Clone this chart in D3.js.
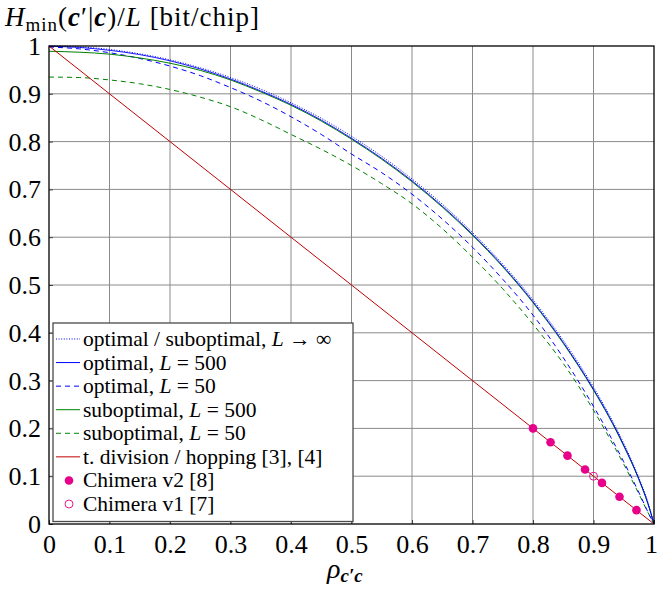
<!DOCTYPE html>
<html>
<head>
<meta charset="utf-8">
<script src="https://cdn.jsdelivr.net/npm/d3@7"></script>
<style>
  body { margin: 0; background: #fff; }
  text { font-family: "Liberation Serif", "DejaVu Serif", serif; fill: #000; }
</style>
</head>
<body>
<div id="chart"></div>
<script>
// Min-entropy vs correlation chart

// Data
// ==========================
var rho = [0, 0.05, 0.1, 0.15, 0.2, 0.25, 0.3, 0.35, 0.4, 0.45, 0.5, 0.55, 0.6, 0.65, 0.7, 0.75, 0.8, 0.85, 0.9, 0.925, 0.95, 0.975, 0.99, 1];

var limitInf = [1, 0.9982, 0.9928, 0.9837, 0.9710, 0.9544, 0.9341, 0.9097, 0.8813, 0.8488, 0.8113, 0.7692, 0.7219, 0.6691, 0.6098, 0.5436, 0.4690, 0.3843, 0.2864, 0.2307, 0.1687, 0.0969, 0.0454, 0];
var opt500 = [0.9995, 0.997, 0.991, 0.982, 0.969, 0.952, 0.931, 0.906, 0.878, 0.845, 0.807, 0.765, 0.718, 0.665, 0.606, 0.540, 0.465, 0.380, 0.282, 0.227, 0.165, 0.094, 0.043, 0];
var opt50 = [0.998, 0.994, 0.986, 0.974, 0.958, 0.938, 0.913, 0.885, 0.852, 0.815, 0.774, 0.735, 0.690, 0.638, 0.579, 0.512, 0.437, 0.348, 0.246, 0.190, 0.130, 0.066, 0.025, 0];
var sub500 = [0.989, 0.987, 0.983, 0.975, 0.964, 0.949, 0.929, 0.904, 0.876, 0.843, 0.805, 0.763, 0.716, 0.663, 0.604, 0.538, 0.463, 0.378, 0.280, 0.225, 0.163, 0.093, 0.042, 0];
var sub50 = [0.935, 0.934, 0.929, 0.921, 0.909, 0.893, 0.873, 0.846, 0.815, 0.784, 0.750, 0.712, 0.670, 0.618, 0.558, 0.492, 0.418, 0.336, 0.238, 0.183, 0.125, 0.063, 0.024, 0];

var tdivRho = [0, 1];
var tdivVal = [1, 0];

var chimera2Rho = [0.8, 0.829, 0.857, 0.886, 0.914, 0.943, 0.971];
var chimera2Val = [0.2, 0.171, 0.143, 0.114, 0.086, 0.057, 0.029];
var chimera1Rho = [0.9];
var chimera1Val = [0.1];

var xTicks = [0, 0.1, 0.2, 0.3, 0.4, 0.5, 0.6, 0.7, 0.8, 0.9, 1];
var yTicks = [0, 0.1, 0.2, 0.3, 0.4, 0.5, 0.6, 0.7, 0.8, 0.9, 1];

// Sizes
var width = 657;
var height = 591;
var mLeft = 49, mRight = 654, mTop = 46, mBottom = 524;
var serif = "'Liberation Serif', 'DejaVu Serif', serif";

var blue = "#0000ff";
var green = "#008000";
var red = "#c00000";
var magenta = "#e6008a";

var svg = d3.select("#chart")
    .append("svg")
    .attr("width", width)
    .attr("height", height);

var xScale = d3.scaleLinear().domain([0, 1]).range([mLeft, mRight]);
var yScale = d3.scaleLinear().domain([0, 1]).range([mBottom, mTop]);

// Grid
svg.append("g")
    .selectAll("line")
    .data(xTicks.slice(1, -1))
    .enter().append("line")
    .attr("x1", function(d) { return xScale(d); })
    .attr("x2", function(d) { return xScale(d); })
    .attr("y1", mTop)
    .attr("y2", mBottom)
    .attr("stroke", "#8a8a8a")
    .attr("stroke-width", 1);

svg.append("g")
    .selectAll("line")
    .data(yTicks.slice(1, -1))
    .enter().append("line")
    .attr("y1", function(d) { return yScale(d); })
    .attr("y2", function(d) { return yScale(d); })
    .attr("x1", mLeft)
    .attr("x2", mRight)
    .attr("stroke", "#8a8a8a")
    .attr("stroke-width", 1);

// Axes (ticks inside, labels outside)
function fmt(d) { return d === 0 || d === 1 ? String(d) : d3.format(".1f")(d); }
var xAxis = d3.axisBottom(xScale).tickValues(xTicks).tickSize(-4).tickFormat(fmt);
var yAxis = d3.axisLeft(yScale).tickValues(yTicks).tickSize(-4).tickFormat(fmt);

var gx = svg.append("g")
    .attr("transform", "translate(0," + mBottom + ")")
    .call(xAxis)
    .attr("font-family", serif);
gx.select(".domain").remove();
gx.selectAll("line").attr("stroke", "#444");
gx.selectAll("text")
    .style("font-family", serif)
    .attr("font-size", 26)
    .attr("y", 8)
    .attr("dy", "0.8em")
    .attr("dx", function(d) { return d === 1 ? -3 : 0; });

var gy = svg.append("g")
    .attr("transform", "translate(" + mLeft + ",0)")
    .call(yAxis)
    .attr("font-family", serif);
gy.select(".domain").remove();
gy.selectAll("line").attr("stroke", "#444");
gy.selectAll("text")
    .style("font-family", serif)
    .attr("font-size", 26)
    .attr("x", -8)
    .attr("dy", "0.33em");

// Curves
function series(xs, ys) {
    return xs.map(function(x, i) { return [x, ys[i]]; });
}

var line = d3.line()
    .x(function(d) { return xScale(d[0]); })
    .y(function(d) { return yScale(d[1]); })
    .curve(d3.curveMonotoneX);

var curves = [
    { data: series(rho, sub50), color: green, dash: "5,4", w: 1 },
    { data: series(rho, opt50), color: blue, dash: "5,4", w: 1 },
    { data: series(rho, sub500), color: green, dash: null, w: 1 },
    { data: series(rho, limitInf), color: blue, dash: "1,1.6", w: 1 },
    { data: series(rho, opt500), color: blue, dash: null, w: 0.9 },
    { data: series(tdivRho, tdivVal), color: red, dash: null, w: 1 }
];

svg.append("g")
    .selectAll("path")
    .data(curves)
    .enter().append("path")
    .attr("d", function(d) { return line(d.data); })
    .attr("fill", "none")
    .attr("stroke", function(d) { return d.color; })
    .attr("stroke-width", function(d) { return d.w; })
    .attr("stroke-dasharray", function(d) { return d.dash; });

// Chimera markers
svg.append("g")
    .selectAll("circle")
    .data(series(chimera2Rho, chimera2Val))
    .enter().append("circle")
    .attr("cx", function(d) { return xScale(d[0]); })
    .attr("cy", function(d) { return yScale(d[1]); })
    .attr("r", 4.3)
    .attr("fill", magenta);

svg.append("g")
    .selectAll("circle")
    .data(series(chimera1Rho, chimera1Val))
    .enter().append("circle")
    .attr("cx", function(d) { return xScale(d[0]); })
    .attr("cy", function(d) { return yScale(d[1]); })
    .attr("r", 4)
    .attr("fill", "none")
    .attr("stroke", magenta)
    .attr("stroke-width", 0.9);

// Axis box
svg.append("rect")
    .attr("x", mLeft)
    .attr("y", mTop)
    .attr("width", mRight - mLeft)
    .attr("height", mBottom - mTop)
    .attr("fill", "none")
    .attr("stroke", "#000")
    .attr("stroke-width", 1.3);

// Legend
// ==========================
var legendItems = [
    { color: blue, dash: "1,1.6", kind: "line" },
    { color: blue, dash: null, kind: "line" },
    { color: blue, dash: "5,4", kind: "line" },
    { color: green, dash: null, kind: "line" },
    { color: green, dash: "5,4", kind: "line" },
    { color: red, dash: null, kind: "line" },
    { color: magenta, kind: "dot" },
    { color: magenta, kind: "ring" }
];

var lg = svg.append("g");
lg.append("rect")
    .attr("x", 53)
    .attr("y", 323)
    .attr("width", 300)
    .attr("height", 198.5)
    .attr("fill", "#fff")
    .attr("stroke", "#4a4a4a")
    .attr("stroke-width", 1.3);

var rowY = d3.scaleLinear().domain([0, 7]).range([339, 504]);

legendItems.forEach(function(item, i) {
    var y = rowY(i);
    if (item.kind === "line") {
        lg.append("line")
            .attr("x1", 56).attr("x2", 80)
            .attr("y1", y).attr("y2", y)
            .attr("stroke", item.color)
            .attr("stroke-width", 1)
            .attr("stroke-dasharray", item.dash);
    } else if (item.kind === "dot") {
        lg.append("circle").attr("cx", 69).attr("cy", y).attr("r", 4.3).attr("fill", item.color);
    } else {
        lg.append("circle").attr("cx", 69).attr("cy", y).attr("r", 4)
            .attr("fill", "none").attr("stroke", item.color).attr("stroke-width", 0.9);
    }
});

function legendText(i) {
    return lg.append("text")
        .attr("x", 83)
        .attr("y", rowY(i) + 7)
        .attr("font-size", 21.5);
}

var t0 = legendText(0);
t0.append("tspan").text("optimal / suboptimal, ");
t0.append("tspan").attr("font-style", "italic").text("L");
t0.append("tspan").text(" \u2192 \u221E");

var lTexts = [["optimal, ", "500"], ["optimal, ", "50"], ["suboptimal, ", "500"], ["suboptimal, ", "50"]];
lTexts.forEach(function(p, k) {
    var t = legendText(k + 1);
    t.append("tspan").text(p[0]);
    t.append("tspan").attr("font-style", "italic").text("L");
    t.append("tspan").text(" = " + p[1]);
});

legendText(5).text("t. division / hopping [3], [4]");
legendText(6).text("Chimera v2 [8]");
legendText(7).text("Chimera v1 [7]");

// Axis titles
var yt = svg.append("text")
    .attr("x", 5)
    .attr("y", 26)
    .attr("font-size", 27)
    .attr("letter-spacing", 1);
yt.append("tspan").attr("font-style", "italic").text("H");
yt.append("tspan").attr("font-size", 19).attr("dy", 5).text("min");
yt.append("tspan").attr("dy", -5).text("(");
yt.append("tspan").attr("font-style", "italic").attr("font-weight", "bold").text("c");
yt.append("tspan").text("\u2032|");
yt.append("tspan").attr("font-style", "italic").attr("font-weight", "bold").text("c");
yt.append("tspan").text(")/");
yt.append("tspan").attr("font-style", "italic").text("L");
yt.append("tspan").text(" [bit/chip]");

var xt = svg.append("text")
    .attr("x", 327)
    .attr("y", 578)
    .attr("font-size", 28);
xt.append("tspan").attr("font-style", "italic").text("\u03C1");
xt.append("tspan").attr("font-size", 19).attr("dy", 4)
    .attr("font-style", "italic").attr("font-weight", "bold").text("c\u2032c");
</script>
</body>
</html>
